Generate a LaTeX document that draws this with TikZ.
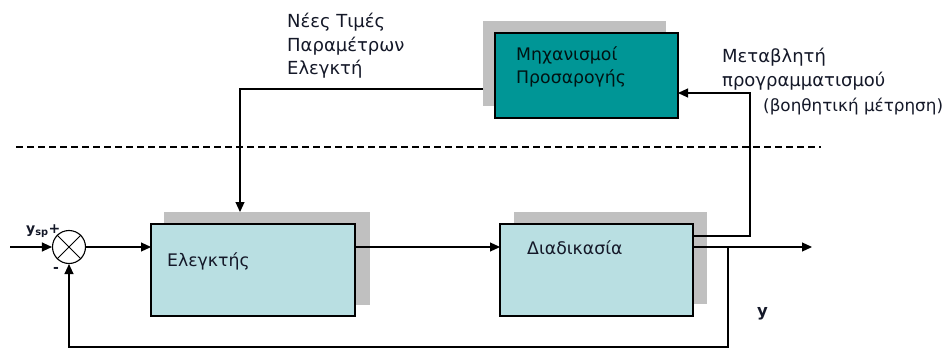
\documentclass[tikz,border=0pt]{standalone}
\usepackage{fontspec}
\setmainfont{DejaVu Sans}
\usetikzlibrary{arrows.meta}

\definecolor{paleblue}{RGB}{185,223,226}
\definecolor{tealbox}{RGB}{0,150,150}
\definecolor{dropgrey}{RGB}{192,192,192}
\definecolor{inkdark}{RGB}{20,24,40}

\tikzset{
  dropshade/.style={fill=dropgrey, draw=none, inner sep=0pt, outer sep=0pt},
  blockbox/.style={draw=black, line width=1.2pt, inner sep=0pt, outer sep=0pt},
  signal/.style={draw=black, line width=1.1pt, -{Triangle[length=10pt,width=9pt]}},
  labeltext/.style={text=inkdark, font=\fontsize{18}{23.5}\selectfont, inner sep=0pt, align=left},
  boxtext/.style={text=inkdark, font=\fontsize{17.3}{23}\selectfont, inner sep=0pt, align=left},
}

\begin{document}
\begin{tikzpicture}[x=1pt,y=-1pt]
\useasboundingbox (0,0) rectangle (952,350);

% drop shadows behind the blocks
\node[dropshade, minimum width=206pt, minimum height=93pt] (ctrlsh) at (267,258.5) {};
\node[dropshade, minimum width=193pt, minimum height=92pt] (procsh) at (610.5,258) {};
\node[dropshade, minimum width=183pt, minimum height=85pt] (adaptsh) at (574.5,63.5) {};

% blocks
\node[blockbox, fill=paleblue, minimum width=204pt, minimum height=92pt] (ctrl) at (253,270) {};
\node[blockbox, fill=paleblue, minimum width=193pt, minimum height=92pt] (proc) at (596.5,270) {};
\node[blockbox, fill=tealbox, minimum width=183pt, minimum height=85pt] (adapt) at (586.5,75.5) {};

% block captions
\node[boxtext, anchor=base west] (ctrltxt) at (167,266) {Ελεγκτής};
\node[boxtext, anchor=base west] (proctxt) at (527,254) {Διαδικασία};
\node[boxtext, anchor=north west, text=black!85!teal] (adapttxt) at (516,46) {Μηχανισμοί\\Προσαρογής};

% summing junction
\node[draw=black, line width=1.1pt, circle, minimum size=33pt, inner sep=0pt] (sum) at (69,247) {};
\draw[line width=0.9pt] (sum.north west) -- (sum.south east);
\draw[line width=0.9pt] (sum.north east) -- (sum.south west);

% separating dashed line
\coordinate (dashL) at (16,147);
\coordinate (dashR) at (821,147);
\draw[line width=1.4pt, dash pattern=on 7pt off 4pt] (dashL) -- (dashR);

% free ends and corners
\coordinate (src) at (10,247);
\coordinate (outend) at (812,247);
\coordinate (tapout) at (728,247);
\coordinate (fbcorner) at (728,347);
\coordinate (fbleft) at (69,347);
\coordinate (auxcorner) at (750,236);
\coordinate (auxtop) at (750,93);
\coordinate (paramcorner) at (240,89);

% main loop
\draw[signal] (src) -- (sum.west);
\draw[signal] (sum.east) -- (ctrl.west |- sum.east);
\draw[signal] (ctrl.east |- sum.east) -- (proc.west |- sum.east);
\draw[signal] (proc.east |- outend) -- (outend);
\draw[signal] (tapout) -- (fbcorner) -- (fbleft) -- (sum.south);

% auxiliary measurement to the adaptation mechanism
\draw[signal] (proc.east |- auxcorner) -- (auxcorner) -- (auxtop) -- (adapt.east |- auxtop);

% new controller parameters
\draw[signal] (adaptsh.west |- paramcorner) -- (paramcorner) -- (paramcorner |- ctrlsh.north);

% labels
\node[labeltext, anchor=north west] (newparams) at (287,13) {Νέες Τιμές\\Παραμέτρων\\Ελεγκτή};
\node[labeltext, anchor=north west] (schedvar) at (722,48) {Μεταβλητή\\προγραμματισμού};
\node[labeltext, anchor=base west, font=\fontsize{16.8}{20}\selectfont] (auxmeas) at (763,112) {(βοηθητική μέτρηση)};
\node[text=inkdark, inner sep=0pt, anchor=base west, font=\bfseries\fontsize{14}{18}\selectfont] (ysp) at (26,233) {y\textsubscript{sp}+};
\node[text=inkdark, inner sep=0pt, font=\bfseries\fontsize{14}{18}\selectfont] (minus) at (56,270) {-};
\node[text=inkdark, inner sep=0pt, anchor=base west, font=\bfseries\fontsize{16.5}{20}\selectfont] (yout) at (757,316) {y};
\end{tikzpicture}
\end{document}
